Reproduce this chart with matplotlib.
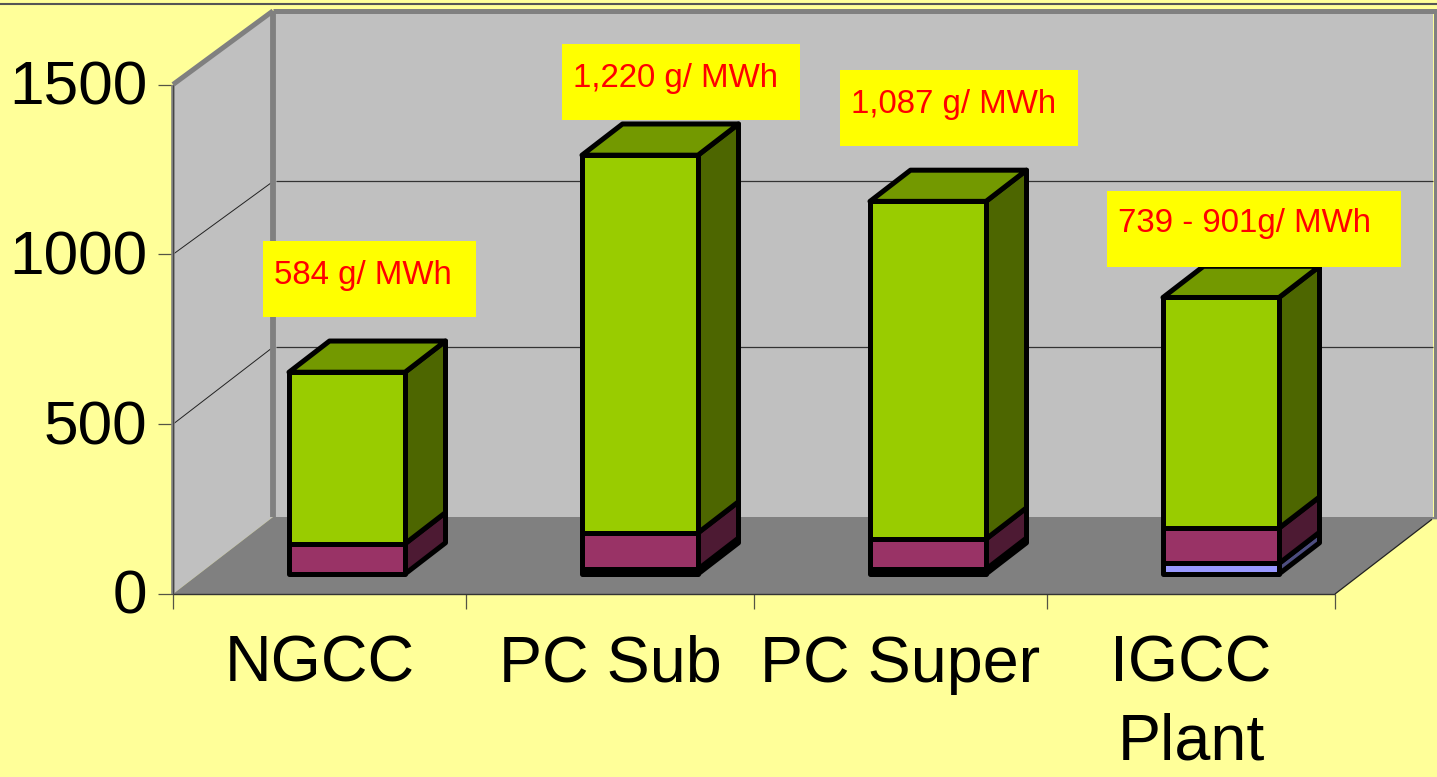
import matplotlib
matplotlib.use("Agg")
import matplotlib.pyplot as plt
from matplotlib.patches import Polygon, Rectangle
from matplotlib.transforms import Affine2D, ScaledTranslation

plt.rcParams['font.family'] = ['Liberation Sans', 'DejaVu Sans']

categories = ["NGCC", "PC Sub", "PC Super", "IGCC\nPlant"]
series_blue = [0, 14, 14, 31]
series_maroon = [89, 107, 89, 104]
series_green = [505, 1112, 994, 679]
y_ticks = [0, 500, 1000, 1500]
x_edges = [0, 1.0086, 2, 3.0086, 4]
labels = ["584 g/ MWh", "1,220 g/ MWh", "1,087 g/ MWh", "739 - 901g/ MWh"]

W, H = 1437, 777
LEFT, RIGHT, V0, V1500 = 173, 1335, 594, 84.5
PX_X = (RIGHT - LEFT) / 4
PX_Y = (V0 - V1500) / 1500

YELLOW_BG = "#FFFF99"
WALL, FLOOR, EDGE = "#C0C0C0", "#808080", "#808080"
FACES = {
    "blue": ("#9999FF", "#4D4D80", "#737399"),
    "maroon": ("#993366", "#4D1A33", "#732640"),
    "green": ("#99CC00", "#4D6600", "#739900"),
}
LW = 3.6

fig = plt.figure(figsize=(W / 100, H / 100), dpi=100, facecolor=YELLOW_BG)
ax = fig.add_axes([LEFT / W, 1 - V0 / H, (RIGHT - LEFT) / W, (V0 - V1500) / H])
ax.set_xlim(0, 4)
ax.set_ylim(0, 1500)
ax.patch.set_visible(False)
for s in ax.spines.values():
    s.set_visible(False)


def proj(x, v, d=0.0):
    """Oblique projection: depth d in 0..1 moves 100 px right and 77 px up."""
    return (x + d * 100 / PX_X, v + d * 77 / PX_Y)


def poly(pts, fc, ec="none", lw=0, z=1):
    ax.add_patch(Polygon(pts, closed=True, facecolor=fc, edgecolor=ec, linewidth=lw,
                         joinstyle="round", clip_on=False, zorder=z))


def line(a, b, color="#222222", lw=0.8, z=1.5):
    ax.plot([a[0], b[0]], [a[1], b[1]], color=color, lw=lw, clip_on=False, zorder=z,
            solid_capstyle="butt")


TOP = 1490
X_BACK = 3.993
X_BAND = 4.002
# walls and floor
poly([proj(0, 0, 1), proj(X_BACK, 0, 1), proj(X_BACK, TOP, 1), proj(0, TOP, 1)], WALL)
poly([proj(0, 0), proj(0, 0, 1), proj(0, TOP, 1), proj(0, 1500)], WALL)
poly([proj(0, 0), proj(4, 0), proj(4, 0, 0.97), proj(4.02, 0, 0.97), proj(4.02, 0, 1),
      proj(0, 0, 1)], FLOOR)

# gridlines
for v, vb in [(500, 500), (1000, 988)]:
    line(proj(0, v), proj(0, vb, 0.98), color="#222222", lw=0.7)
    line(proj(0.01, vb, 1), proj(X_BACK, vb, 1), color="#333333", lw=0.9)

# wall borders
line(proj(0, 1500), proj(0, TOP, 1), color=EDGE, lw=3.6, z=1.6)
line(proj(0, TOP, 1), proj(0, 0, 1), color=EDGE, lw=4.2, z=1.6)
line(proj(0, TOP, 1), proj(4.02, TOP, 1), color=EDGE, lw=3.6, z=1.6)
line(proj(X_BAND, TOP, 1), proj(X_BAND, 0, 1), color=EDGE, lw=3.6, z=1.6)
line(proj(0, 1500), proj(0, 0), color=EDGE, lw=2.6, z=1.6)
line(proj(-0.001, 1500), proj(-0.001, 0), color="#444444", lw=0.7, z=1.7)
line(proj(0, 0), proj(4, 0), color="#333333", lw=1.0, z=1.7)
line(proj(4, 0), proj(4, 0, 0.97), color="#222222", lw=0.9, z=1.7)

# bars
BAR_W = 116 / PX_X
D0, D1 = 0.26, 0.665
X_OFF = 90 / PX_X
for i in range(4):
    xl = x_edges[i] + X_OFF
    xr = xl + BAR_W
    base = 0.0
    segs = [("blue", series_blue[i]), ("maroon", series_maroon[i]), ("green", series_green[i])]
    segs = [s for s in segs if s[1] > 0]
    for j, (name, val) in enumerate(segs):
        front, side, top = FACES[name]
        t = base + val
        poly([proj(xr, base, D0), proj(xr, base, D1), proj(xr, t, D1), proj(xr, t, D0)],
             side, "black", LW, 3)
        poly([proj(xl, base, D0), proj(xr, base, D0), proj(xr, t, D0), proj(xl, t, D0)],
             front, "black", LW, 3)
        if j == len(segs) - 1:
            poly([proj(xl, t, D0), proj(xr, t, D0), proj(xr, t, D1), proj(xl, t, D1)],
                 top, "black", LW, 3)
        base = t

# axes ticks and labels
ax.set_yticks(y_ticks)
ax.set_yticklabels([str(v) for v in y_ticks], fontsize=44.8)
ax.tick_params(axis="y", length=10.5, width=0.9, color="#555544", pad=8)
for lab in ax.get_yticklabels():
    lab.set_transform(lab.get_transform() + ScaledTranslation(0, 2 / 100, fig.dpi_scale_trans))
ax.set_xticks(x_edges)
ax.set_xticklabels([])
ax.set_xticks([(a + b) / 2 for a, b in zip(x_edges[:-1], x_edges[1:])], minor=True)
ax.set_xticklabels(categories, minor=True, fontsize=46.5, linespacing=1.37)
ax.tick_params(axis="x", which="major", length=10.5, width=0.9, color="#555544")
ax.tick_params(axis="x", which="minor", length=0, pad=29.5)

# top rule
px = Affine2D().scale(1, -1).translate(0, H)
fig.add_artist(plt.Line2D([0, W], [3.8, 3.8], transform=px, color="#555555", lw=1.5))

# value callouts
boxes = [(263, 241, 213, 76), (562, 44, 238, 76), (840, 70, 238, 76), (1107, 191, 294, 76)]
anchors = [(274, 284), (573, 87), (851, 113), (1118, 232)]
for (bx, by, bw, bh), (tx, ty), lab in zip(boxes, anchors, labels):
    fig.add_artist(Rectangle((bx, by), bw, bh, transform=px, facecolor="#FFFF00",
                             edgecolor="none", zorder=5))
    fig.text(tx, ty, lab, transform=px, color="#FF0000", fontsize=23.8, ha="left",
             va="baseline", zorder=6)

fig.savefig("out.png", dpi=100, facecolor=YELLOW_BG)
